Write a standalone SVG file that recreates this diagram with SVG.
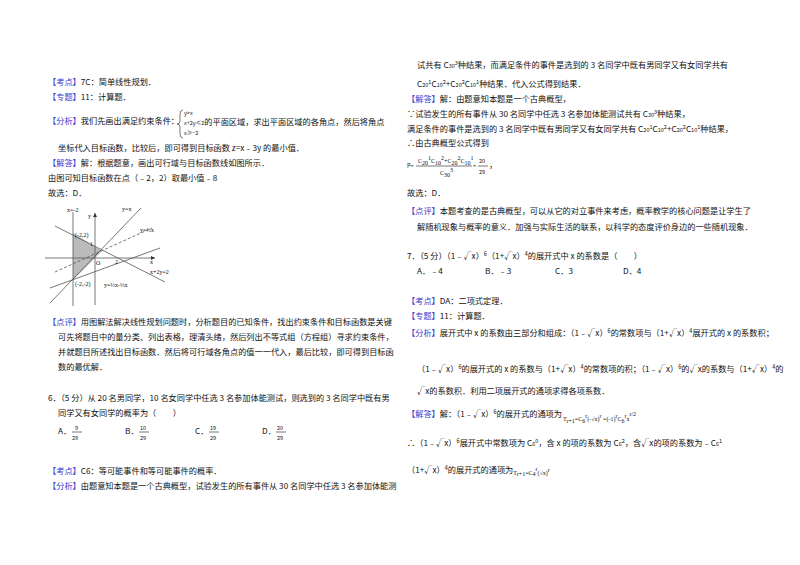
<svg xmlns="http://www.w3.org/2000/svg" width="800" height="565" viewBox="0 0 800 565">
<style>
text{font-family:"Noto Sans CJK SC","Liberation Sans",sans-serif;font-size:8.2px;fill:#111}
.b{fill:#3a3acc}
.s{font-size:5.5px}
.g{font-size:6px;font-family:"Liberation Serif",serif}
.ln{stroke:#555;stroke-width:0.8;fill:none}
</style>
<rect width="800" height="565" fill="#fff"/>
<g id="left">
<text x="48" y="85"><tspan class="b">【考点】</tspan>7C：简单线性规划．</text>
<text x="48" y="100"><tspan class="b">【专题】</tspan>11：计算题．</text>
<text x="48" y="124"><tspan class="b">【分析】</tspan>我们先画出满足约束条件：</text>
<path d="M183 110 q-3 0 -3 4 v7 q0 3 -3 3 q3 0 3 3 v7 q0 4 3 4" class="ln"/>
<text x="184" y="115" class="s">y&gt;x</text>
<text x="184" y="125"><tspan class="s">x+2y≤2</tspan>的平面区域，求出平面区域的各角点，然后将角点</text>
<text x="184" y="135" class="s">x≥−2</text>
<text x="58" y="151">坐标代入目标函数，比较后，即可得到目标函数 z=x﹣3y 的最小值．</text>
<text x="48" y="166"><tspan class="b">【解答】</tspan>解：根据题意，画出可行域与目标函数线如图所示．</text>
<text x="48" y="181">由图可知目标函数在点（﹣2，2）取最小值﹣8</text>
<text x="48" y="196">故选：D．</text>
</g>
<g id="graph">
<polygon points="73,233 102,251 73,280" fill="#bbb"/>
<line x1="45" y1="258" x2="155" y2="258" class="ln"/>
<path d="M155 258 l-4 -2 v4z" fill="#333"/>
<line x1="95" y1="305" x2="95" y2="213" class="ln"/>
<path d="M95 213 l-2 4 h4z" fill="#333"/>
<line x1="73" y1="212" x2="73" y2="306" class="ln" stroke-width="1.2"/>
<line x1="50" y1="303" x2="141" y2="208" class="ln"/>
<line x1="55" y1="226" x2="165" y2="282" class="ln"/>
<line x1="55" y1="272" x2="152" y2="228" class="ln" stroke-dasharray="3,2"/>
<line x1="50" y1="288" x2="160" y2="248" class="ln"/>
<text x="67" y="212" class="g">x=-2</text>
<text x="88" y="218" class="g">y</text>
<text x="122" y="211" class="g">y=x</text>
<text x="140" y="232" class="g">y=⅓x</text>
<text x="75" y="237" class="g">(-2,2)</text>
<text x="90" y="246" class="g">1</text>
<text x="96" y="265" class="g">O</text>
<text x="115" y="264" class="g">2</text>
<text x="150" y="264" class="g">x</text>
<text x="150" y="274" class="g">x+2y=2</text>
<text x="75" y="286" class="g">(-2,-2)</text>
<text x="104" y="287" class="g">y=⅓x-⅓x</text>
</g>
<g id="left2">
<text x="48" y="325"><tspan class="b">【点评】</tspan>用图解法解决线性规划问题时，分析题目的已知条件，找出约束条件和目标函数是关键</text>
<text x="58" y="340">可先将题目中的量分类、列出表格，理清头绪，然后列出不等式组（方程组）寻求约束条件，</text>
<text x="58" y="355">并就题目所述找出目标函数．然后将可行域各角点的值一一代入，最后比较，即可得到目标函</text>
<text x="58" y="370">数的最优解．</text>
<text x="48" y="401">6．（5 分）从 20 名男同学，10 名女同学中任选 3 名参加体能测试，则选到的 3 名同学中既有男</text>
<text x="58" y="416">同学又有女同学的概率为（　　）</text>
<text x="58" y="434">A．</text><text x="75" y="430" class="s">9</text><line x1="72" y1="432" x2="82" y2="432" class="ln"/><text x="72" y="440" class="s">29</text>
<text x="125" y="434">B．</text><text x="140" y="430" class="s">10</text><line x1="139" y1="432" x2="149" y2="432" class="ln"/><text x="140" y="440" class="s">29</text>
<text x="195" y="434">C．</text><text x="210" y="430" class="s">19</text><line x1="209" y1="432" x2="219" y2="432" class="ln"/><text x="210" y="440" class="s">29</text>
<text x="262" y="434">D．</text><text x="277" y="430" class="s">20</text><line x1="276" y1="432" x2="286" y2="432" class="ln"/><text x="277" y="440" class="s">29</text>
<text x="48" y="474"><tspan class="b">【考点】</tspan>C6：等可能事件和等可能事件的概率．</text>
<text x="48" y="489"><tspan class="b">【分析】</tspan>由题意知本题是一个古典概型，试验发生的所有事件从 30 名同学中任选 3 名参加体能测</text>
</g>
<g id="right">
<text x="417" y="68">试共有 C<tspan class="s">30</tspan><tspan class="s" dy="-3">3</tspan><tspan dy="3">种结果，而满足条件的事件是选到的 3 名同学中既有男同学又有女同学共有</tspan></text>
<text x="417" y="87">C<tspan class="s">20</tspan><tspan class="s" dy="-3">1</tspan><tspan dy="3">C</tspan><tspan class="s">10</tspan><tspan class="s" dy="-3">2</tspan><tspan dy="3">+C</tspan><tspan class="s">20</tspan><tspan class="s" dy="-3">2</tspan><tspan dy="3">C</tspan><tspan class="s">10</tspan><tspan class="s" dy="-3">1</tspan><tspan dy="3">种结果．代入公式得到结果．</tspan></text>
<text x="407" y="102"><tspan class="b">【解答】</tspan>解：由题意知本题是一个古典概型，</text>
<text x="407" y="117">∵试验发生的所有事件从 30 名同学中任选 3 名参加体能测试共有 C<tspan class="s">30</tspan><tspan class="s" dy="-3">3</tspan><tspan dy="3">种结果，</tspan></text>
<text x="407" y="132">满足条件的事件是选到的 3 名同学中既有男同学又有女同学共有 C<tspan class="s">20</tspan><tspan class="s" dy="-3">1</tspan><tspan dy="3">C</tspan><tspan class="s">10</tspan><tspan class="s" dy="-3">2</tspan><tspan dy="3">+C</tspan><tspan class="s">20</tspan><tspan class="s" dy="-3">2</tspan><tspan dy="3">C</tspan><tspan class="s">10</tspan><tspan class="s" dy="-3">1</tspan><tspan dy="3">种结果，</tspan></text>
<text x="407" y="146">∴由古典概型公式得到</text>
<text x="407" y="168" class="s">P=</text>
<text x="418" y="163" class="g">C<tspan dy="2">20</tspan><tspan dy="-5">1</tspan><tspan dy="3">C</tspan><tspan dy="2">10</tspan><tspan dy="-5">2</tspan><tspan dy="3">+C</tspan><tspan dy="2">20</tspan><tspan dy="-5">2</tspan><tspan dy="3">C</tspan><tspan dy="2">10</tspan><tspan dy="-5">1</tspan></text>
<line x1="416" y1="166" x2="472" y2="166" class="ln"/>
<text x="440" y="175" class="g">C<tspan dy="2">30</tspan><tspan dy="-5">3</tspan></text>
<text x="473" y="168" class="s">=</text>
<text x="479" y="163" class="s">20</text><line x1="478" y1="166" x2="488" y2="166" class="ln"/><text x="479" y="174" class="s">29</text>
<text x="489" y="168">，</text>
<text x="407" y="196">故选：D．</text>
<text x="407" y="214"><tspan class="b">【点评】</tspan>本题考查的是古典概型，可以从它的对立事件来考虑，概率教学的核心问题是让学生了</text>
<text x="417" y="230">解随机现象与概率的意义．加强与实际生活的联系，以科学的态度评价身边的一些随机现象．</text>
<text x="407" y="259">7．（5 分）（1﹣√x）<tspan class="s" dy="-3">6</tspan><tspan dy="3">（1+√x）</tspan><tspan class="s" dy="-3">4</tspan><tspan dy="3">的展开式中 x 的系数是（　　）</tspan></text>
<text x="417" y="274">A．﹣4</text><text x="485" y="274">B．﹣3</text><text x="555" y="274">C．3</text><text x="623" y="274">D．4</text>
<text x="407" y="304"><tspan class="b">【考点】</tspan>DA：二项式定理．</text>
<text x="407" y="319"><tspan class="b">【专题】</tspan>11：计算题．</text>
<text x="407" y="336"><tspan class="b">【分析】</tspan>展开式中 x 的系数由三部分和组成：（1﹣√x）<tspan class="s" dy="-3">6</tspan><tspan dy="3">的常数项与（1+√x）</tspan><tspan class="s" dy="-3">4</tspan><tspan dy="3">展开式的 x 的系数积；</tspan></text>
<text x="417" y="372">（1﹣√x）<tspan class="s" dy="-3">6</tspan><tspan dy="3">的展开式的 x 的系数与（1+√x）</tspan><tspan class="s" dy="-3">4</tspan><tspan dy="3">的常数项的积；（1﹣√x）</tspan><tspan class="s" dy="-3">6</tspan><tspan dy="3">的√x的系数与（1+√x）</tspan><tspan class="s" dy="-3">4</tspan><tspan dy="3">的</tspan></text>
<text x="417" y="394">√x的系数积．利用二项展开式的通项求得各项系数．</text>
<text x="407" y="417"><tspan class="b">【解答】</tspan>解：（1﹣√x）<tspan class="s" dy="-3">6</tspan><tspan dy="3">的展开式的通项为</tspan></text>
<text x="563" y="421" class="g" font-size="7">T<tspan dy="2">r+1</tspan><tspan dy="-2">=C</tspan><tspan dy="2">6</tspan><tspan dy="-5">r</tspan><tspan dy="3">(-√x)</tspan><tspan dy="-3">r</tspan><tspan dy="3"> =(-1)</tspan><tspan dy="-3">r</tspan><tspan dy="3">C</tspan><tspan dy="2">6</tspan><tspan dy="-5">r</tspan><tspan dy="3">x</tspan><tspan dy="-5">r/2</tspan></text>
<text x="407" y="446">∴（1﹣√x）<tspan class="s" dy="-3">6</tspan><tspan dy="3">展开式中常数项为 C</tspan><tspan class="s">6</tspan><tspan class="s" dy="-3">0</tspan><tspan dy="3">，含 x 的项的系数为 C</tspan><tspan class="s">6</tspan><tspan class="s" dy="-3">2</tspan><tspan dy="3">，含√x的项的系数为﹣C</tspan><tspan class="s">6</tspan><tspan class="s" dy="-3">1</tspan></text>
<text x="407" y="473">（1+√x）<tspan class="s" dy="-3">4</tspan><tspan dy="3">的展开式的通项为</tspan><tspan class="g" font-size="7" dy="2">T</tspan><tspan class="g" font-size="5" dy="1">r+1</tspan><tspan class="g" font-size="7" dy="-1">=C</tspan><tspan class="g" font-size="5" dy="1">4</tspan><tspan class="g" font-size="5" dy="-5">r</tspan><tspan class="g" font-size="7" dy="4">(√x)</tspan><tspan class="g" font-size="5" dy="-3">r</tspan></text>
</g>
</svg>
